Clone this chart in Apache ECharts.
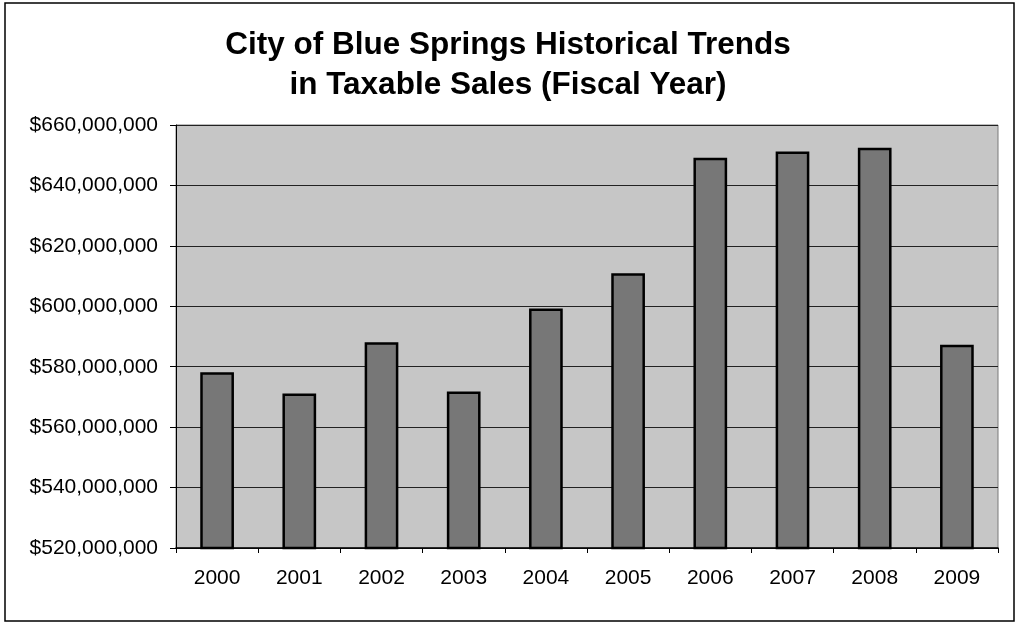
<!DOCTYPE html>
<html>
<head>
<meta charset="utf-8">
<script src="https://cdn.jsdelivr.net/npm/echarts@6/dist/echarts.min.js"></script>
<style>
html,body{margin:0;padding:0;background:#fff;}
#chart{width:1016px;height:624px;}
</style>
</head>
<body>
<div id="chart"></div>
<script>
const titleLines = ['City of Blue Springs Historical Trends', 'in Taxable Sales (Fiscal Year)'];
const years = ['2000','2001','2002','2003','2004','2005','2006','2007','2008','2009'];
const taxableSales = [578200000, 571100000, 588100000, 571800000, 599300000, 610900000, 649200000, 651200000, 652500000, 587300000];
const yMin = 520000000;
const yMax = 660000000;
const yStep = 20000000;

function money(v){
  return '$' + String(Math.round(v)).replace(/\B(?=(\d{3})+(?!\d))/g, ',');
}

const chart = echarts.init(document.getElementById('chart'));
chart.setOption({
  animation: false,
  backgroundColor: '#ffffff',
  title: {
    text: titleLines.join('\n'),
    left: 'center',
    top: 20,
    textStyle: {
      fontFamily: 'Liberation Sans, Arial, sans-serif',
      fontWeight: 'bold',
      fontSize: 31.5,
      lineHeight: 40,
      color: '#000'
    }
  },
  graphic: [{
    type: 'rect',
    shape: {x: 5, y: 3, width: 1009, height: 618},
    style: {fill: 'none', stroke: '#000', lineWidth: 1.5},
    silent: true,
    z: -1
  }],
  grid: {
    left: 176, right: 18, top: 125, bottom: 76,
    show: true,
    backgroundColor: '#c6c6c6',
    borderColor: '#7a7a7a',
    borderWidth: 1
  },
  xAxis: {
    type: 'category',
    data: years,
    axisLine: {lineStyle: {color: '#000', width: 1.5}},
    axisTick: {show: true, length: 5, lineStyle: {color: '#000'}},
    axisLabel: {
      fontFamily: 'Liberation Sans, Arial, sans-serif',
      fontSize: 21,
      color: '#000',
      margin: 20
    },
    splitLine: {show: false}
  },
  yAxis: {
    type: 'value',
    min: yMin,
    max: yMax,
    interval: yStep,
    axisLine: {show: true, lineStyle: {color: '#000', width: 1}},
    axisTick: {show: true, length: 6, lineStyle: {color: '#000'}},
    axisLabel: {
      fontFamily: 'Liberation Sans, Arial, sans-serif',
      fontSize: 21,
      color: '#000',
      margin: 18,
      formatter: money
    },
    splitLine: {show: true, lineStyle: {color: '#222', width: 1}}
  },
  series: [{
    type: 'bar',
    data: taxableSales,
    barWidth: '41%',
    itemStyle: {
      color: '#777777',
      borderColor: '#000',
      borderWidth: 2.5
    }
  }]
});
</script>
</body>
</html>
